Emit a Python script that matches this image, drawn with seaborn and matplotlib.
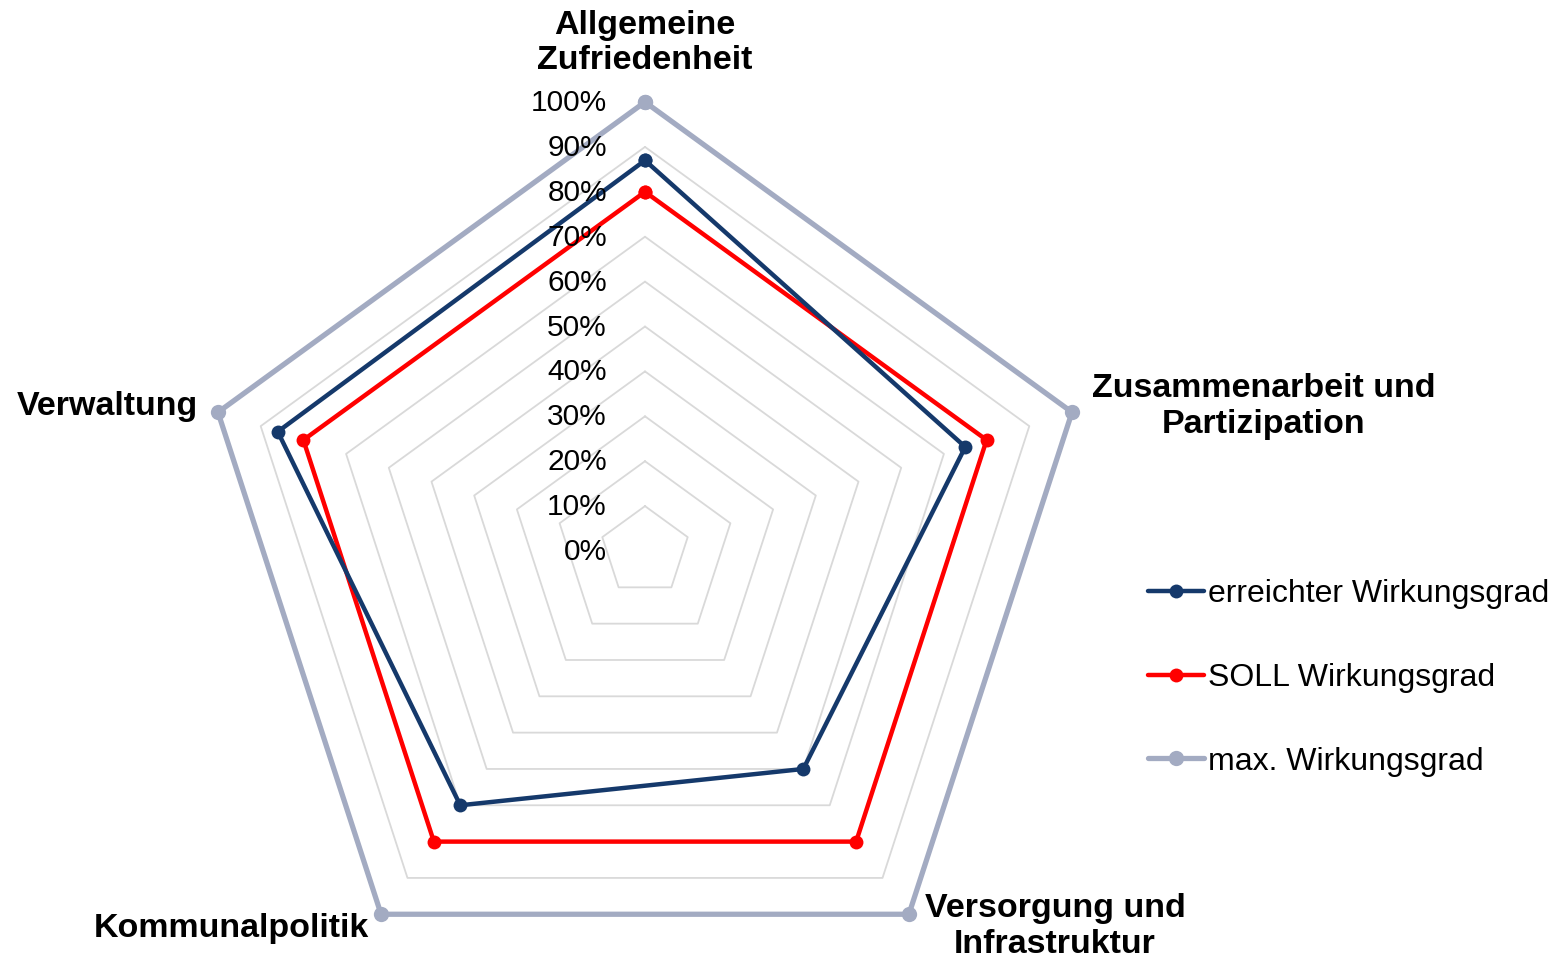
import numpy as np
import pandas as pd
import seaborn as sns
import matplotlib
matplotlib.use("Agg")
import matplotlib.pyplot as plt

# Wirkungsgrad je Bereich
kategorien = ["Allgemeine\nZufriedenheit", "Zusammenarbeit und\nPartizipation",
              "Versorgung und\nInfrastruktur", "Kommunalpolitik", "Verwaltung"]
erreicht = [0.87, 0.75, 0.60, 0.70, 0.86]
soll = [0.80, 0.80, 0.80, 0.80, 0.80]
maximal = [1.0, 1.0, 1.0, 1.0, 1.0]
serien = ["erreichter Wirkungsgrad", "SOLL Wirkungsgrad", "max. Wirkungsgrad"]
farben = ["#15396b", "#ff0000", "#a3abc2"]
ticks = [0.0, 0.1, 0.2, 0.3, 0.4, 0.5, 0.6, 0.7, 0.8, 0.9, 1.0]
tick_labels = ["0%", "10%", "20%", "30%", "40%", "50%", "60%", "70%", "80%", "90%", "100%"]

sns.set_theme(style="white")
plt.rcParams["font.family"] = ["Liberation Sans", "DejaVu Sans"]
plt.rcParams["text.color"] = "black"

n = len(kategorien)
winkel = np.linspace(0, 2 * np.pi, n, endpoint=False)
winkel_zu = np.append(winkel, 2 * np.pi)

fig = plt.figure(figsize=(15.65, 9.6), dpi=100)
ax = fig.add_axes([0.12524, -0.04167, 0.5738, 0.9354], projection="polar")
ax.set_theta_offset(np.pi / 2)
ax.set_theta_direction(-1)
ax.set_ylim(0, 1)
ax.grid(False)
ax.spines["polar"].set_visible(False)
ax.set_xticks([])
ax.set_yticks([])

# Fuenfeck-Gitter
for t in ticks[1:]:
    ax.plot(winkel_zu, [t] * (n + 1), color="#d9d9d9", linewidth=1.3, zorder=1, clip_on=False)

df = pd.DataFrame({"winkel": winkel_zu,
                   serien[0]: erreicht + erreicht[:1],
                   serien[1]: soll + soll[:1],
                   serien[2]: maximal + maximal[:1]})

z = {serien[0]: 4, serien[1]: 3, serien[2]: 2}
for name, farbe in zip(serien, farben):
    lw = 3.8 if name == serien[2] else 3.2
    ms = 11 if name == serien[2] else 10
    sns.lineplot(data=df, x="winkel", y=name, ax=ax, sort=False, estimator=None,
                 color=farbe, linewidth=lw, marker="o", markersize=ms,
                 markeredgewidth=0, label=name, zorder=z[name], clip_on=False,
                 legend=False)
ax.set_xlabel("")
ax.set_ylabel("")

# Achsenbeschriftung (Prozent)
for t, lab in zip(ticks, tick_labels):
    ax.annotate(lab, xy=(0, t), xytext=(-38, -1), textcoords="offset pixels",
                ha="right", va="center", fontsize=21.5, color="black", zorder=6)

# Kategorien
offsets = [(0, 59, "center"), (192, 6, "center"), (146, -12, "center"),
           (-12, -14, "right"), (-20, 6, "right")]
for w, lab, (dx, dy, ha) in zip(winkel, kategorien, offsets):
    ax.annotate(lab, xy=(w, 1.0), xytext=(dx, dy), textcoords="offset pixels",
                ha=ha, va="center", fontsize=24.5, fontweight="bold", color="black",
                linespacing=1.2, multialignment="center", annotation_clip=False)

handles, labels = ax.get_legend_handles_labels()
fig.legend(handles, labels, loc="center left",
           bbox_to_anchor=(1148 / 1565, 1 - 678 / 960), frameon=False,
           fontsize=23, handlelength=1.75, handletextpad=0.12,
           labelspacing=1.68, borderpad=0, borderaxespad=0)

fig.savefig("out.png", dpi=100)
